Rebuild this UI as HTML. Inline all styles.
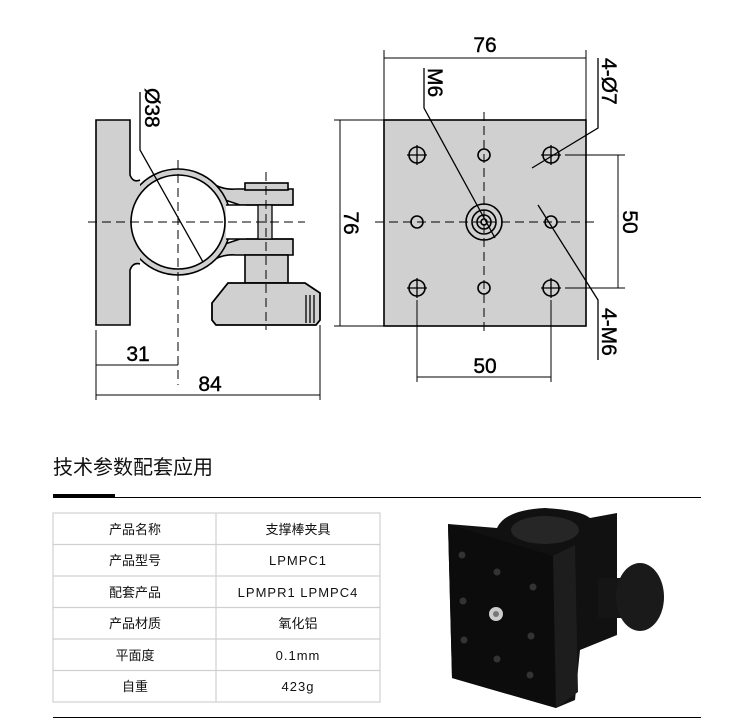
<!DOCTYPE html>
<html><head><meta charset="utf-8"><style>
body{margin:0;background:#fff;width:750px;height:728px;overflow:hidden;font-family:"Liberation Sans","Noto Sans CJK SC",sans-serif}
svg{position:absolute;left:0;top:0}
</style></head><body>
<svg width="750" height="728" viewBox="0 0 750 728" font-family="Liberation Sans, Noto Sans CJK SC, sans-serif">
<g stroke="#000" stroke-width="1.3" fill="none">
<!-- left view -->
<path d="M215 185 Q225 190 236 189 H293 V205 H240 L225 200 Z" fill="#d0d0d0" stroke-width="1.6"/>
<path d="M215 259 Q225 254 236 255 H293 V239 H240 L225 244 Z" fill="#d0d0d0" stroke-width="1.6"/>
<circle cx="178" cy="222" r="53" fill="#d0d0d0" stroke-width="1.6"/>
<path d="M96 120 H130 V175 Q133 183 140 180 L140 264 Q133 262 130 270 V325 H96 Z" fill="#d0d0d0" stroke="none"/>
<path d="M140 180 Q133 183 130 175 V120 H96 V325 H130 V270 Q133 262 140 264" stroke-width="1.6"/>
<rect x="226" y="205" width="20" height="34" fill="#fff" stroke="none"/>
<path d="M226 205 H293 M226 239 H293" stroke-width="1.6"/>
<circle cx="178" cy="222" r="47" fill="#fff" stroke-width="1.6"/>
<rect x="245" y="183" width="43" height="7" fill="#d0d0d0" stroke-width="1.6"/>
<rect x="258" y="205" width="14" height="34" fill="#d0d0d0"/>
<rect x="245" y="255" width="43" height="28" fill="#d0d0d0" stroke-width="1.6"/>
<path d="M212 303 L228 283 H305 L320 293 V320 L316 325 H216 L212 320 Z" fill="#d0d0d0" stroke-width="1.8"/>
<path d="M306 295 V323 M310 295 V323 M314 295 V323"/>
<g stroke-dasharray="9 5" stroke-width="1">
<path d="M88 222 H305"/><path d="M178 160 V385"/><path d="M266 172 V330"/>
</g>
<path d="M140 92 V150 L203 262"/>
<path d="M96 330 V400 M320 325 V400 M96 365 H178 M96 395 H320" stroke-width="1"/>
<!-- right view -->
<rect x="384" y="120" width="202" height="206" fill="#d0d0d0" stroke-width="1.6"/>
<path d="M384 50 V120 M586 50 V120 M384 58 H586 M334 120 H384 M334 326 H384 M340 120 V326" stroke-width="1"/>
<path d="M565 155 H625 M565 288 H625 M618 155 V288 M417 300 V382 M551 300 V382 M417 377 H551" stroke-width="1"/>
<g stroke-dasharray="9 5" stroke-width="1">
<path d="M375 222 H594"/><path d="M484 112 V333"/>
</g>
<g stroke-width="1.6">
<circle cx="417" cy="155" r="8"/><circle cx="551" cy="155" r="8"/><circle cx="417" cy="288" r="8"/><circle cx="551" cy="288" r="8"/>
<circle cx="484" cy="155" r="6"/><circle cx="484" cy="288" r="6"/><circle cx="417" cy="222" r="6"/><circle cx="551" cy="222" r="6"/>
<circle cx="484" cy="222" r="18"/><circle cx="484" cy="222" r="12"/><circle cx="484" cy="222" r="7"/><circle cx="484" cy="222" r="3"/>
</g>
<path d="M407 155 H427 M417 145 V165 M541 155 H561 M551 145 V165 M407 288 H427 M417 278 V298 M541 288 H561 M551 278 V298" stroke-width="1.3"/>
<path d="M424 68 V108 L495 238"/>
<path d="M598 58 V128 L532 168"/>
<path d="M538 205 L598 300 V360"/>
</g>
<g font-size="21" fill="#000" text-anchor="middle" stroke="#000" stroke-width="0.4">
<text x="485" y="52">76</text>
<text x="138" y="361">31</text>
<text x="210" y="391">84</text>
<text x="485" y="373">50</text>
<text transform="translate(344,223) rotate(90)">76</text>
<text transform="translate(623,222) rotate(90)">50</text>
<text transform="translate(145,88) rotate(90)" text-anchor="start">Ø38</text>
<text transform="translate(428,68) rotate(90)" text-anchor="start">M6</text>
<text transform="translate(602,58) rotate(90)" text-anchor="start">4-Ø7</text>
<text transform="translate(602,308) rotate(90)" text-anchor="start">4-M6</text>
</g>
<!-- header -->
<text x="53" y="474" font-size="20" fill="#111">技术参数配套应用</text>
<rect x="53" y="494" width="62" height="4" fill="#000"/>
<rect x="53" y="497" width="648" height="1" fill="#000"/>
<rect x="53" y="717" width="648" height="1" fill="#000"/>
<!-- table -->
<g stroke="#d0d0d0" stroke-width="1.2" fill="none">
<rect x="53" y="513" width="327" height="189"/>
<path d="M216 513 V702 M53 544.5 H380 M53 576 H380 M53 607.5 H380 M53 639 H380 M53 670.5 H380"/>
</g>
<g font-size="13" fill="#111" text-anchor="middle">
<text x="135" y="534">产品名称</text><text x="298" y="534">支撑棒夹具</text>
<text x="135" y="565">产品型号</text><text x="298" y="565" letter-spacing="1">LPMPC1</text>
<text x="135" y="597">配套产品</text><text x="298" y="597" letter-spacing="1">LPMPR1 LPMPC4</text>
<text x="135" y="628">产品材质</text><text x="298" y="628">氧化铝</text>
<text x="135" y="660">平面度</text><text x="298" y="660" letter-spacing="1">0.1mm</text>
<text x="135" y="691">自重</text><text x="298" y="691" letter-spacing="1">423g</text>
</g>
<!-- photo -->
<g>
<path d="M497 528 Q505 510 545 508 Q580 510 590 518 L617 513 L617 635 L580 650 L575 700 L556 708 L452 678 L448 524 Z" fill="#111"/>
<ellipse cx="545" cy="530" rx="34" ry="14" fill="#262626"/>
<path d="M448 524 L553 556 L556 708 L452 678 Z" fill="#0c0c0c"/>
<path d="M553 556 L575 545 L578 692 L556 708 Z" fill="#1d1d1d"/>
<rect x="598" y="578" width="30" height="40" fill="#151515"/>
<ellipse cx="640" cy="597" rx="24" ry="34" fill="#1a1a1a"/>
<circle cx="462" cy="555" r="3.5" fill="#333"/><circle cx="497" cy="572" r="3.5" fill="#333"/><circle cx="533" cy="587" r="3.5" fill="#333"/>
<circle cx="463" cy="601" r="3.5" fill="#333"/><circle cx="531" cy="636" r="3.5" fill="#333"/>
<circle cx="464" cy="640" r="3.5" fill="#333"/><circle cx="497" cy="659" r="3.5" fill="#333"/><circle cx="530" cy="675" r="3.5" fill="#333"/>
<circle cx="496" cy="614" r="7" fill="#ccc"/><circle cx="496" cy="614" r="3" fill="#777"/>
</g>
</svg>
</body></html>
